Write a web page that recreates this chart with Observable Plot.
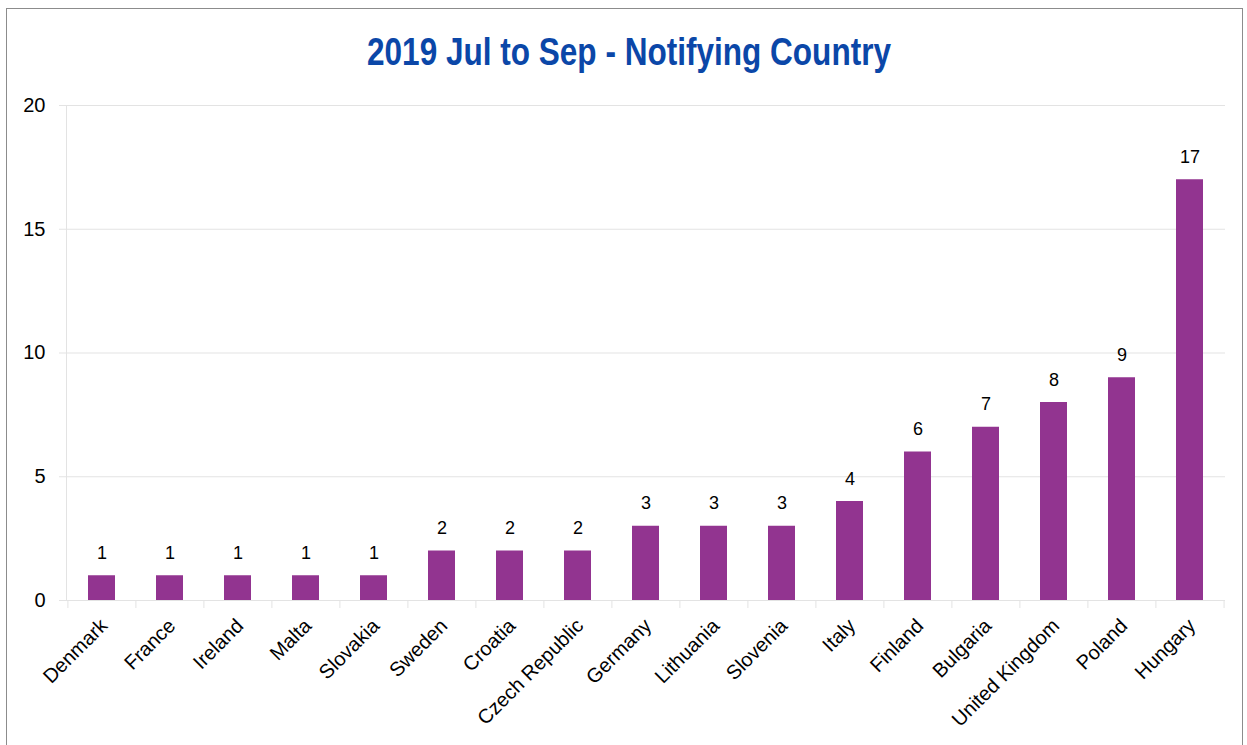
<!DOCTYPE html>
<html>
<head>
<meta charset="utf-8">
<script src="https://cdn.jsdelivr.net/npm/d3@7"></script>
<script src="https://cdn.jsdelivr.net/npm/@observablehq/plot@0.6"></script>
<style>
  html, body { margin: 0; padding: 0; background: #fff; }
  #wrap { position: relative; width: 1247px; height: 745px; overflow: hidden; }
  #border { position: absolute; left: 6px; top: 8px; width: 1237px; height: 760px; border: 1px solid #8c8c8c; box-sizing: border-box; }
  #title { position: absolute; left: 0; width: 1258px; top: 30px; text-align: center;
    font-family: "Liberation Sans", Arial, sans-serif; font-weight: bold;
    font-size: 38px; color: #0b47a8; line-height: 44px; white-space: nowrap;
    transform: scaleX(0.83); transform-origin: 629px 0; }
  #chart { position: absolute; left: 0; top: 0; }
</style>
</head>
<body>
<div id="wrap">
  <div id="border"></div>
  <div id="chart"></div>
  <div id="title">2019 Jul to Sep - Notifying Country</div>
</div>
<script>
const countries = ["Denmark", "France", "Ireland", "Malta", "Slovakia", "Sweden", "Croatia", "Czech Republic", "Germany", "Lithuania", "Slovenia", "Italy", "Finland", "Bulgaria", "United Kingdom", "Poland", "Hungary"];
const counts = [1, 1, 1, 1, 1, 2, 2, 2, 3, 3, 3, 4, 6, 7, 8, 9, 17];
const yTicks = [0, 5, 10, 15, 20];

const data = countries.map((c, i) => ({country: c, count: counts[i]}));

const W = 1247, H = 745, mL = 66, mR = 22, mT = 105, mB = 145;
const step = (W - mL - mR) / countries.length;

const chart = Plot.plot({
  width: W, height: H,
  marginLeft: mL, marginRight: mR, marginTop: mT, marginBottom: mB,
  style: {fontFamily: "'Liberation Sans', Arial, sans-serif", color: "#000", background: "transparent", overflow: "visible"},
  x: {domain: countries, paddingInner: 0.6, paddingOuter: 0.3, axis: null, label: null},
  y: {domain: [0, 20], axis: null, label: null},
  marks: [
    Plot.gridY(yTicks, {stroke: "#e3e3e3", strokeOpacity: 1, insetLeft: -7}),
    Plot.frame({anchor: "left", stroke: "#e3e3e3"}),
    Plot.ruleX(countries, {x: d => d, dx: -step / 2, y1: 0, y2: 0, insetBottom: -8, stroke: "#e3e3e3"}),
    Plot.ruleX([countries[countries.length - 1]], {x: d => d, dx: step / 2, y1: 0, y2: 0, insetBottom: -8, stroke: "#e3e3e3"}),
    Plot.barY(data, {x: "country", y: "count", fill: "#923490"}),
    Plot.text(data, {x: "country", y: "count", text: d => String(d.count), dy: -17, lineAnchor: "bottom", fontSize: 18, fill: "#000"}),
    Plot.axisY(yTicks, {tickSize: 0, tickPadding: 21, fontSize: 20, label: null, tickFormat: d => String(d)}),
    Plot.axisX({tickSize: 0, tickPadding: 22, tickRotate: -45, fontSize: 20, label: null, dx: 2})
  ]
});
document.getElementById("chart").appendChild(chart);
</script>
</body>
</html>
